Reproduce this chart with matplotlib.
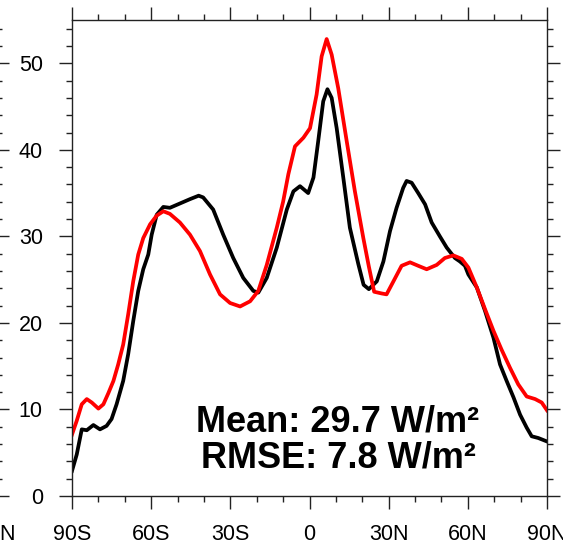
import matplotlib
matplotlib.use('Agg')
import matplotlib.pyplot as plt
from matplotlib.ticker import MultipleLocator

plt.rcParams['font.family'] = ['Liberation Sans', 'DejaVu Sans']

# black curve (reference)
lat_black = [-90, -88.2, -86.3, -84.4, -81.9, -79.4, -76.9, -75, -73.1, -70.6,
             -68.7, -66.8, -64.9, -63, -61.1, -59.8, -57.9, -55.4, -52.9, -49.1,
             -45.3, -42, -40.3, -36.5, -32.7, -28.9, -25.1, -21.3, -19.4, -16.2,
             -12.4, -8.6, -6.1, -3.6, -0.5, 1.5, 3.3, 5.2, 6.8, 8.4,
             10.3, 12.8, 15.3, 18.5, 20.5, 22.5, 25.5, 28.0, 30.5, 33.0,
             35.5, 36.8, 38.7, 41.2, 43.8, 46.3, 49.4, 52.0, 55.1, 57.0,
             58.9, 60.2, 63.4, 66.5, 69.7, 72.2, 74.7, 77.3, 79.8, 82.3,
             84.2, 86.7, 90]
val_black = [2.9, 4.8, 7.7, 7.6, 8.2, 7.7, 8.1, 8.9, 10.6, 13.3,
             16.4, 20.2, 23.7, 26.2, 27.9, 30.2, 32.5, 33.4, 33.3, 33.8,
             34.3, 34.7, 34.5, 33.1, 30.2, 27.5, 25.2, 23.7, 23.5, 25.2,
             28.7, 33.1, 35.2, 35.8, 35.0, 36.8, 41.0, 45.6, 47.0, 46.0,
             42.5, 36.8, 31.0, 26.8, 24.4, 23.9, 24.8, 27.1, 30.6, 33.3,
             35.6, 36.4, 36.2, 35.0, 33.7, 31.6, 30.0, 28.7, 27.5, 27.1,
             26.6, 25.6, 24.1, 21.4, 18.3, 15.2, 13.3, 11.4, 9.4, 7.9,
             6.9, 6.7, 6.3]

# red curve (model)
lat_red = [-90, -88.2, -86.3, -84.4, -82.5, -80, -78.1, -76.2, -74.3, -72.5,
           -70.6, -68.7, -66.8, -64.9, -63, -60.4, -57.9, -55.4, -52.9, -49.1,
           -45.3, -41.5, -37.7, -33.9, -30.1, -26.3, -22.5, -19.4, -16.2, -12.4,
           -10.0, -8.0, -5.5, -2.3, 0.2, 2.7, 4.6, 6.5, 8.4, 10.9,
           14.1, 17.2, 20.4, 22.5, 24.5, 27.4, 29.2, 31.8, 34.9, 38.1,
           41.2, 44.4, 48.2, 51.3, 54.5, 57.7, 60.2, 63.4, 66.5, 69.7,
           72.8, 76.0, 79.1, 82.3, 85.5, 88.0, 90]
val_red = [7.1, 8.7, 10.6, 11.2, 10.8, 10.1, 10.6, 11.9, 13.3, 15.2,
           17.5, 21.0, 24.8, 27.9, 29.8, 31.4, 32.4, 32.9, 32.6, 31.6,
           30.2, 28.3, 25.6, 23.3, 22.3, 21.9, 22.5, 23.7, 26.7, 31.0,
           34.0, 37.2, 40.4, 41.4, 42.5, 46.4, 50.8, 52.8, 51.0, 47.1,
           41.0, 35.2, 29.8, 26.5, 23.6, 23.4, 23.3, 24.8, 26.6, 27.0,
           26.6, 26.2, 26.7, 27.5, 27.8, 27.4, 26.4, 24.1, 21.6, 19.1,
           16.9, 14.8, 12.9, 11.5, 11.2, 10.8, 9.9]

mean_text = 'Mean: 29.7 W/m²'
rmse_text = 'RMSE: 7.8 W/m²'

lat_ticks = [-90, -60, -30, 0, 30, 60, 90]
lat_labels = ['90S', '60S', '30S', '0', '30N', '60N', '90N']

W, H = 563, 545
fig = plt.figure(figsize=(W / 100, H / 100), dpi=100)

left, right, top, bottom = 72, 547, 20, 496
pos = [left / W, (H - bottom) / H, (right - left) / W, (bottom - top) / H]


def style_axes(ax):
    ax.set_xlim(-90, 90)
    ax.set_ylim(0, 55)
    ax.xaxis.set_major_locator(MultipleLocator(30))
    ax.xaxis.set_minor_locator(MultipleLocator(10))
    ax.yaxis.set_major_locator(MultipleLocator(10))
    ax.yaxis.set_minor_locator(MultipleLocator(2))
    ax.tick_params(which='both', direction='out', top=True, right=True,
                   color='#222222', width=1.0)
    ax.tick_params(which='major', length=9.5)
    ax.tick_params(which='minor', length=4.5)
    ax.tick_params(axis='y', which='major', pad=11.5, labelsize=15.5)
    ax.tick_params(axis='x', which='major', pad=11, labelsize=15.5)
    for s in ax.spines.values():
        s.set_linewidth(1.0)
        s.set_color('#222222')


# neighbouring panel, only its right edge peeks in
ax0 = fig.add_axes([(-4 - (right - left)) / W, pos[1], pos[2], pos[3]])
style_axes(ax0)
ax0.set_xticks(lat_ticks, [''] * (len(lat_ticks) - 1) + [lat_labels[-1]])
ax0.tick_params(labelleft=False)

ax = fig.add_axes(pos)
style_axes(ax)
ax.set_xticks(lat_ticks, lat_labels)

ax.plot(lat_black, val_black, color='black', lw=2.7, solid_joinstyle='round')
ax.plot(lat_red, val_red, color='#ff0000', lw=2.7, solid_joinstyle='round')

cx = (338 - left) / (right - left)
ax.text(cx, (bottom - 432) / (bottom - top), mean_text, transform=ax.transAxes,
        ha='center', va='baseline', fontsize=26, fontweight='bold')
ax.text(cx, (bottom - 468) / (bottom - top), rmse_text, transform=ax.transAxes,
        ha='center', va='baseline', fontsize=26, fontweight='bold')

fig.savefig('out.png', dpi=100)
